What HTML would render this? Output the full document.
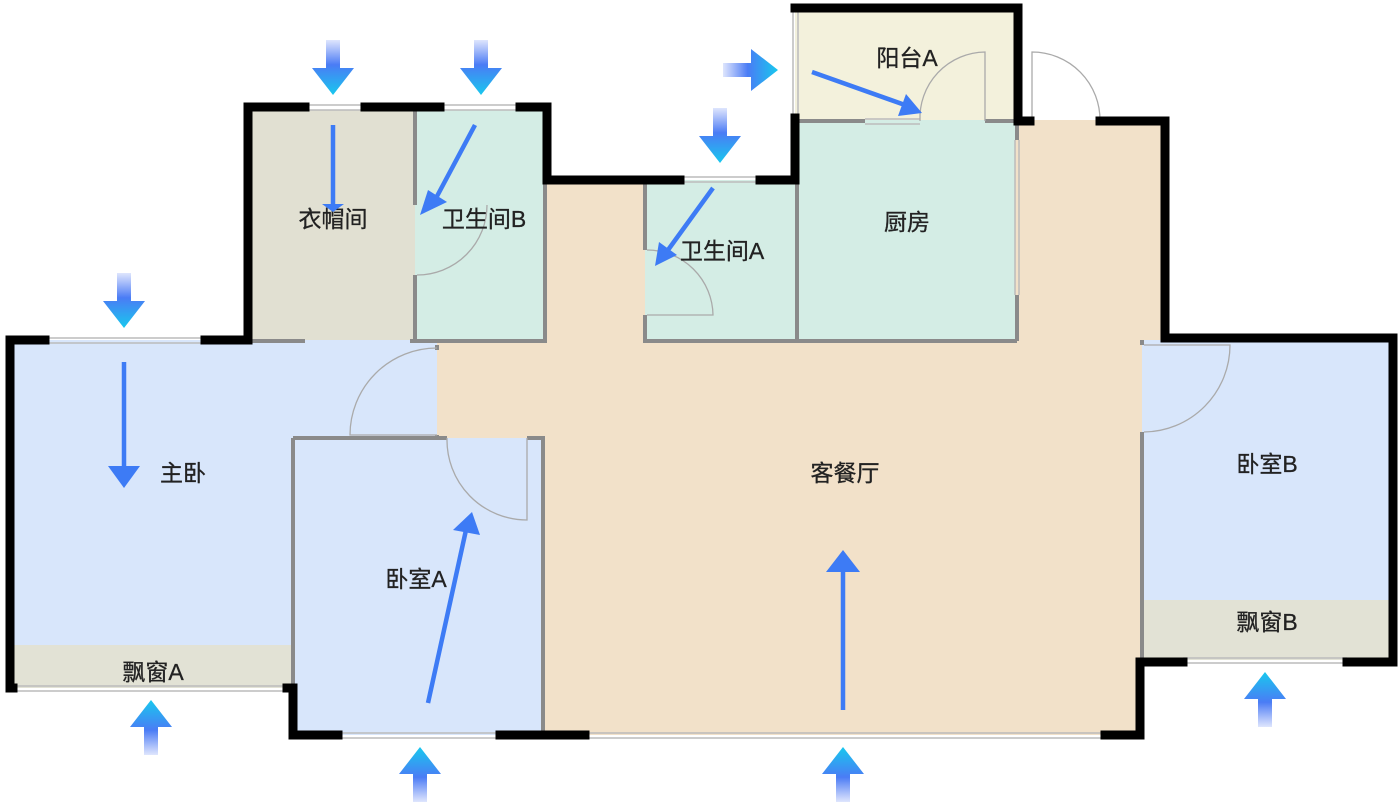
<!DOCTYPE html>
<html><head><meta charset="utf-8"><style>
html,body{margin:0;padding:0;background:#fff;width:1400px;height:806px;overflow:hidden}
text{font-family:"Liberation Sans","Noto Sans CJK SC",sans-serif;font-size:23px;fill:#222;text-anchor:middle;stroke:#222;stroke-width:0.3}
</style></head><body>
<svg width="1400" height="806" viewBox="0 0 1400 806" xmlns="http://www.w3.org/2000/svg">
<defs>
<linearGradient id="gd" x1="0" y1="0" x2="0" y2="1"><stop offset="0" stop-color="#5a7ff5" stop-opacity="0.2"/><stop offset="0.45" stop-color="#4a7cf5"/><stop offset="1" stop-color="#18c8ee"/></linearGradient>
<linearGradient id="gu" x1="0" y1="1" x2="0" y2="0"><stop offset="0" stop-color="#5a7ff5" stop-opacity="0.2"/><stop offset="0.45" stop-color="#4a7cf5"/><stop offset="1" stop-color="#18c8ee"/></linearGradient>
<g id="ad"><path d="M-7,0 H7 V28 H21 L0,55 L-21,28 H-7 Z" fill="url(#gd)"/></g>
<g id="au"><path d="M-7,55 H7 V27 H21 L0,0 L-21,27 H-7 Z" fill="url(#gu)"/></g>
</defs>
<!-- fills -->
<rect x="437" y="180" width="705" height="555" fill="#f2e1c9"/>
<rect x="1015" y="120" width="150" height="220" fill="#f2e1c9"/>
<rect x="250" y="110" width="165" height="230" fill="#e1e0d2"/>
<rect x="415" y="110" width="132" height="230" fill="#d4ede5"/>
<rect x="645" y="180" width="150" height="160" fill="#d4ede5"/>
<rect x="795" y="120" width="220" height="220" fill="#d4ede5"/>
<rect x="795" y="10" width="222" height="110" fill="#f3f1dc"/>
<rect x="10" y="340" width="427" height="348" fill="#d8e6fb"/>
<rect x="10" y="645" width="283" height="43" fill="#e2e2d5"/>
<rect x="293" y="438" width="250" height="297" fill="#d8e6fb"/>
<rect x="1142" y="340" width="251" height="320" fill="#d8e6fb"/>
<rect x="1142" y="600" width="251" height="60" fill="#e2e2d5"/>
<!-- grey inner walls -->
<g stroke="#8a8a8a" stroke-width="4" fill="none">
<path d="M415,110 V205 M415,275 V340"/>
<path d="M250,341 H305 M410,341 H547"/>
<path d="M545,180 V341"/>
<path d="M437,345 V350 M437,435 V440"/>
<path d="M293,438 V688 M293,438 H447 M527,438 H543 V735"/>
<path d="M645,180 V250 M645,315 V341 H1017"/>
<path d="M797,180 V341"/>
<path d="M1017,121 V140 M1017,295 V341"/>
<path d="M797,121 H865 M985,121 H1017"/>
<path d="M1142,340 V345 M1142,432 V662"/>
</g>
<!-- windows -->
<g stroke="#bbb" stroke-width="1.5" fill="none">
<path d="M305,105 H365 M305,110 H365 M440,105 H520 M440,110 H520"/>
<path d="M680,177 H760 M680,182 H760"/>
<path d="M793,10 V117 M798,10 V117"/>
<path d="M45,338 H205 M45,343 H205"/>
<path d="M15,686 H287 M15,691 H287"/>
<path d="M338,733 H500 M338,738 H500 M585,733 H1105 M585,738 H1105"/>
<path d="M1183,658 H1347 M1183,663 H1347"/>
<path d="M1015,140 V295 M1019,140 V295"/>
<path d="M865,119 H920 M865,124 H920"/>
</g>
<!-- door arcs -->
<g stroke="#aaa" stroke-width="1.3" fill="none">
<path d="M417,275 A70,70 0 0 0 487,205"/>
<path d="M647,315 H713 A66,66 0 0 0 647,250"/>
<path d="M985,121 V52 A66,66 0 0 0 920,121"/>
<path d="M1032,121 V52 A68,68 0 0 1 1100,121"/>
<path d="M437,348 A87,87 0 0 0 350,435 H437"/>
<path d="M447,438 A80,80 0 0 0 527,520 V438"/>
<path d="M1144,345 H1230 A87,87 0 0 1 1144,432"/>
</g>
<!-- black walls -->
<g stroke="#000" stroke-width="9" fill="none" stroke-linecap="square">
<path d="M248,340 V107 H305 M365,107 H440 M520,107 H547 V180 H680 M760,180 H795 V118"/>
<path d="M795,8 H1018 V121 H1030 M1100,121 H1165 V338 H1393 V662 H1347 M1183,662 H1140 V735 H1105"/>
<path d="M585,735 H500 M338,735 H293 V688 H287"/>
<path d="M13,688 H10 V340 H45 M205,340 H248"/>
</g>
<!-- labels -->
<text x="333" y="227">衣帽间</text>
<text x="484" y="227">卫生间B</text>
<text x="722" y="259">卫生间A</text>
<text x="907" y="230">厨房</text>
<text x="907" y="66">阳台A</text>
<text x="183" y="481">主卧</text>
<text x="416" y="587">卧室A</text>
<text x="845" y="481">客餐厅</text>
<text x="1267" y="472">卧室B</text>
<text x="1267" y="630">飘窗B</text>
<text x="153" y="680">飘窗A</text>
<!-- inner arrows -->
<g stroke="#3d7bf5" stroke-width="4.5" fill="none">
<path d="M333,125 V205"/>
<path d="M475,125 L435,200"/>
<path d="M713,188 L668,250"/>
<path d="M812,72 L905,105"/>
<path d="M124,362 V468"/>
<path d="M428,703 L466,530"/>
<path d="M843,710 V570"/>
</g>
<g fill="#3d7bf5">
<path d="M322,204 L344,204 L333,212 Z"/>
<path d="M420,215 L428,190 L447,202 Z"/>
<path d="M655,266 L659,242 L677,255 Z"/>
<path d="M922,113 L898,116 L906,94 Z"/>
<path d="M108,466 H140 L124,488 Z"/>
<path d="M472,512 L480,535 L453,530 Z"/>
<path d="M826,572 H860 L843,550 Z"/>
</g>
<!-- outside arrows -->
<use href="#ad" x="333" y="40"/>
<use href="#ad" x="481" y="40"/>
<use href="#ad" x="720" y="108"/>
<use href="#ad" x="124" y="273"/>
<g transform="translate(723,70) rotate(-90)"><path d="M-7,0 H7 V28 H21 L0,55 L-21,28 H-7 Z" fill="url(#gd)" transform="scale(-1,1)"/></g>
<use href="#au" x="151" y="700"/>
<use href="#au" x="420" y="747"/>
<use href="#au" x="843" y="747"/>
<use href="#au" x="1265" y="672"/>
</svg>
</body></html>
